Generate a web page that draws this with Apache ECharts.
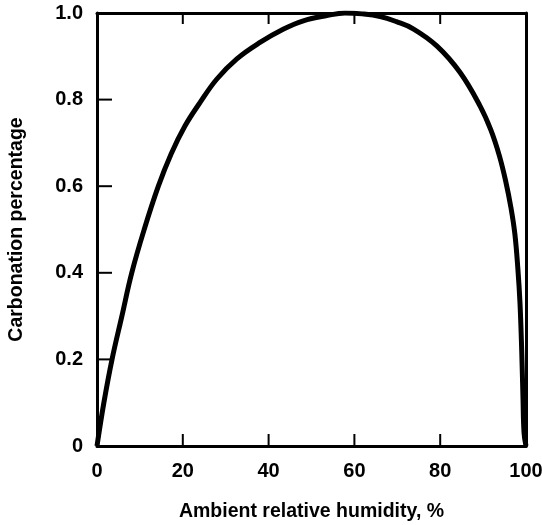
<!DOCTYPE html>
<html>
<head>
<meta charset="utf-8">
<script src="https://cdn.jsdelivr.net/npm/echarts@6/dist/echarts.min.js"></script>
<style>html,body{margin:0;padding:0;background:#fff;}#c{width:542px;height:525px;}</style>
</head>
<body>
<div id="c"></div>
<script>
const humidity = [0, 1.6, 3.5, 5.8, 8.1, 11.0, 14.3, 17.3, 20.5, 24.0, 27.9, 32.6, 38.0, 43.5, 48.1, 53.6, 57.8, 61.8, 66.0, 69.8, 73.8, 79.2, 84.6, 89.3, 91.8, 93.8, 95.3, 96.5, 97.4, 98.1, 98.6, 99.0, 99.3, 99.55, 100];
const carbonation = [0, 0.1, 0.2, 0.3, 0.4, 0.5, 0.6, 0.675, 0.739, 0.793, 0.847, 0.894, 0.932, 0.963, 0.982, 0.994, 1.0, 0.998, 0.992, 0.98, 0.963, 0.924, 0.863, 0.785, 0.73, 0.67, 0.61, 0.55, 0.49, 0.41, 0.33, 0.22, 0.11, 0.03, 0];
const xTicks = [0, 20, 40, 60, 80, 100];
const yTicks = [0, 0.2, 0.4, 0.6, 0.8, 1.0];
const xTitle = 'Ambient relative humidity, %';
const yTitle = 'Carbonation percentage';

const font = '"Liberation Sans", Arial, Helvetica, sans-serif';
const chart = echarts.init(document.getElementById('c'), null, {renderer: 'canvas'});
const axisLine = {show: true, onZero: false, lineStyle: {color: '#000', width: 3}};
const noTick = {show: false};

// inward tick marks placed via the axis scales (bottom = 0, top = 1, left = 2)
const xMin = xTicks[0], xMax = xTicks[xTicks.length - 1];
const yMin = yTicks[0], yMax = yTicks[yTicks.length - 1];
const tickData = []
  .concat(xTicks.slice(1, -1).map(t => [t, yMin, 0]))
  .concat(xTicks.slice(1, -1).map(t => [t, yMax, 1]))
  .concat(yTicks.slice(1, -1).map(t => [xMin, t, 2]));
const tickLen = [12, 11, 15];

chart.setOption({
  animation: false,
  backgroundColor: '#fff',
  grid: {left: 97, right: 16, top: 13, bottom: 79, show: false, containLabel: false, outerBoundsMode: 'none'},
  xAxis: [{
    type: 'value', min: xMin, max: xMax, interval: 20, position: 'bottom',
    axisLine: axisLine, axisTick: noTick, splitLine: {show: false},
    axisLabel: {color: '#000', fontSize: 20, fontWeight: 'bold', fontFamily: font, margin: 15,
      formatter: v => xTicks.includes(v) ? String(v) : ''},
    name: xTitle, nameLocation: 'middle', nameGap: 56,
    nameTextStyle: {color: '#000', fontSize: 19.5, fontWeight: 'bold', fontFamily: font}
  }, {
    type: 'value', min: xMin, max: xMax, interval: 20, position: 'top',
    axisLine: axisLine, axisTick: noTick, axisLabel: {show: false}, splitLine: {show: false}
  }],
  yAxis: [{
    type: 'value', min: yMin, max: yMax, interval: 0.2, position: 'left',
    axisLine: axisLine, axisTick: noTick, splitLine: {show: false},
    axisLabel: {color: '#000', fontSize: 20, fontWeight: 'bold', fontFamily: font, margin: 14,
      formatter: v => { const t = yTicks.find(y => Math.abs(y - v) < 1e-9); return t === undefined ? '' : (t === 0 ? '0' : t.toFixed(1)); }},
    name: yTitle, nameLocation: 'middle', nameGap: 70, nameRotate: 90,
    nameTextStyle: {color: '#000', fontSize: 19.5, fontWeight: 'bold', fontFamily: font}
  }, {
    type: 'value', min: yMin, max: yMax, interval: 0.2, position: 'right',
    axisLine: axisLine, axisTick: noTick, axisLabel: {show: false}, splitLine: {show: false}
  }],
  series: [{
    type: 'line', xAxisIndex: 0, yAxisIndex: 0,
    data: humidity.map((h, i) => [h, carbonation[i]]),
    smooth: 0.4, showSymbol: false, symbol: 'none',
    lineStyle: {color: '#000', width: 5}
  }, {
    type: 'custom', xAxisIndex: 0, yAxisIndex: 0, silent: true, z: 3,
    encode: {x: 0, y: 1},
    data: tickData,
    renderItem: function (params, api) {
      const p = api.coord([api.value(0), api.value(1)]);
      const k = api.value(2);
      const len = tickLen[k];
      let x2 = p[0], y2 = p[1];
      if (k === 0) y2 = p[1] - len;
      else if (k === 1) y2 = p[1] + len;
      else x2 = p[0] + len;
      return {type: 'line', shape: {x1: p[0], y1: p[1], x2: x2, y2: y2},
        style: {stroke: '#000', lineWidth: 2}};
    }
  }]
});
</script>
</body>
</html>
